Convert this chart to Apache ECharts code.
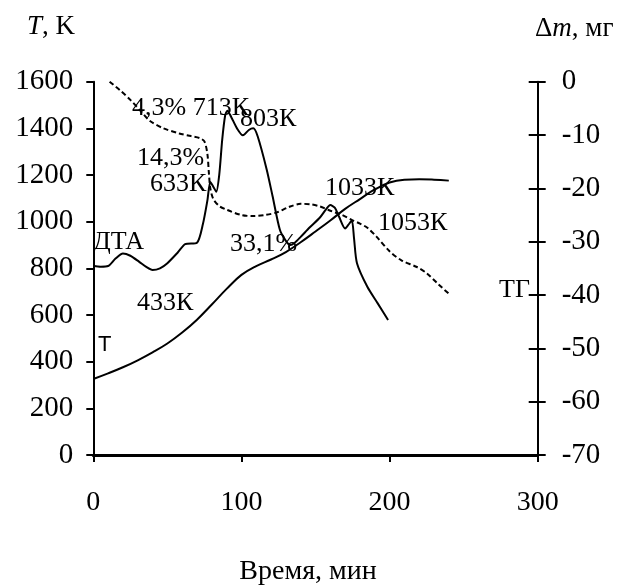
<!DOCTYPE html>
<html>
<head>
<meta charset="utf-8">
<script src="https://cdn.jsdelivr.net/npm/echarts@6/dist/echarts.min.js"></script>
<style>
html,body{margin:0;padding:0;background:#fff;}
#c{width:621px;height:588px;}
</style>
</head>
<body>
<div id="c"></div>
<script>
// Time ticks (min)
const xTicks = [0, 100, 200, 300];
// Temperature curve T [time, K]
const tempT = [[0,326],[10,350],[20,376],[30,406],[40,440],[50,478],[60,525],[70,580],[80,645],[90,712],[100,772],[110,810],[120,838],[130,870],[140,912],[150,958],[160,1005],[170,1055],[180,1097],[190,1138],[200,1168],[210,1180],[220,1182],[230,1180],[240,1176]];
// DTA curve [time, K-scale]
const dta = [[0,811],[5,807],[10,810],[15,842],[20,864],[25,854],[31,828],[36,805],[40,793],[45,800],[50,822],[57,868],[62,904],[70,910],[74,990],[77,1090],[79,1170],[81,1150],[83,1128],[85,1200],[87,1350],[89,1455],[90.5,1476],[93,1450],[97,1400],[101,1370],[105,1393],[108,1400],[111,1365],[117,1225],[121,1110],[126,964],[130,918],[133,900],[136,910],[140,935],[146,975],[153,1018],[157,1052],[160,1071],[163,1060],[166,1020],[170,971],[172,985],[174.5,1005],[176,930],[178,822],[185,721],[192,650],[199,579]];
// TG curve [time, mg]
const tg = [[11,0],[18,-1.6],[25,-3.4],[32,-5.5],[38,-7.3],[47,-8.7],[58,-9.7],[66,-10.2],[72,-10.6],[75,-11.2],[77,-13.5],[78,-17],[79,-20],[81,-22],[85,-23.3],[90,-24],[100,-25],[108,-25.2],[116,-25],[124,-24.5],[132,-23.5],[140,-22.9],[147,-23],[153,-23.4],[160,-24.2],[168,-25],[175,-26],[180,-26.6],[185,-27.4],[191,-29],[200,-31.8],[208,-33.5],[218,-34.7],[225,-35.9],[233,-38],[241,-40]];

const serif = '"Liberation Serif","Times New Roman",serif';
const sans = '"Liberation Sans",Arial,sans-serif';
const black = '#000';

const chart = echarts.init(document.getElementById('c'), null, {renderer:'canvas'});

function txt(s, x, y, size, opts) {
  opts = opts || {};
  return {
    type: 'text', x: x, y: y, silent: true,
    style: Object.assign({
      text: s,
      font: (opts.italic ? 'italic ' : '') + size + 'px ' + (opts.family || serif),
      fill: black,
      align: opts.align || 'left',
      verticalAlign: 'middle'
    }, opts.rich ? {rich: opts.rich} : {})
  };
}

const richItalic = {i: {fontStyle: 'italic', fontFamily: serif, fontSize: 27, fill: black}, n: {fontFamily: serif, fontSize: 27, fill: black}};

chart.setOption({
  animation: false,
  backgroundColor: '#fff',
  grid: {left: 93.3, right: 83.3, top: 81.7, bottom: 133, containLabel: false},
  xAxis: {
    type: 'value', min: 0, max: 300, interval: 100,
    axisLine: {show: true, lineStyle: {color: black, width: 3}},
    axisTick: {show: true, length: 7, lineStyle: {color: black, width: 2}},
    splitLine: {show: false},
    axisLabel: {color: black, fontFamily: serif, fontSize: 28, margin: 34,
      formatter: v => xTicks.indexOf(v) >= 0 ? String(v) : ''}
  },
  yAxis: [
    {
      type: 'value', min: 0, max: 1600, interval: 200, position: 'left',
      axisLine: {show: true, lineStyle: {color: black, width: 2}},
      axisTick: {show: true, length: 7, lineStyle: {color: black, width: 2}},
      splitLine: {show: false},
      axisLabel: {color: black, fontFamily: serif, fontSize: 29, margin: 20, formatter: v => String(v)}
    },
    {
      type: 'value', min: -70, max: 0, interval: 10, position: 'right',
      axisLine: {show: true, lineStyle: {color: black, width: 2}},
      axisTick: {show: true, length: 8, lineStyle: {color: black, width: 2}},
      splitLine: {show: false},
      axisLabel: {color: black, fontFamily: serif, fontSize: 29, margin: 24, formatter: v => String(v)}
    },
    {
      type: 'value', min: -70, max: 0, interval: 10, position: 'right',
      axisLine: {show: false},
      axisTick: {show: true, inside: true, length: 9, lineStyle: {color: black, width: 2}},
      splitLine: {show: false},
      axisLabel: {show: false}
    }
  ],
  series: [
    {name: 'T', type: 'line', yAxisIndex: 0, data: tempT, smooth: 0.4, showSymbol: false,
      lineStyle: {color: black, width: 2}},
    {name: 'ДТА', type: 'line', yAxisIndex: 0, data: dta, smooth: 0.25, showSymbol: false,
      lineStyle: {color: black, width: 2}},
    {name: 'ТГ', type: 'line', yAxisIndex: 1, data: tg, smooth: 0.3, showSymbol: false,
      lineStyle: {color: black, width: 2, type: [5, 3]}}
  ],
  graphic: [
    txt('{i|T}{n|, K}', 27, 27, 27, {rich: richItalic}),
    txt('{n|Δ}{i|m}{n|, мг}', 535, 29, 27, {rich: richItalic}),
    txt('Время, мин', 308, 572, 28, {align: 'center'}),
    txt('4,3% 713К', 132, 108, 26),
    txt('803К', 240, 119, 26),
    txt('14,3%', 137, 158, 26),
    txt('633К', 150, 184, 26),
    txt('ДТА', 93, 242, 26),
    txt('433К', 137, 303, 26),
    txt('T', 98, 345, 22, {family: sans}),
    txt('33,1%', 230, 244, 26),
    txt('1033К', 325, 188, 26),
    txt('1053К', 378, 223, 26),
    txt('ТГ', 499, 290, 26)
  ]
});
</script>
</body>
</html>
